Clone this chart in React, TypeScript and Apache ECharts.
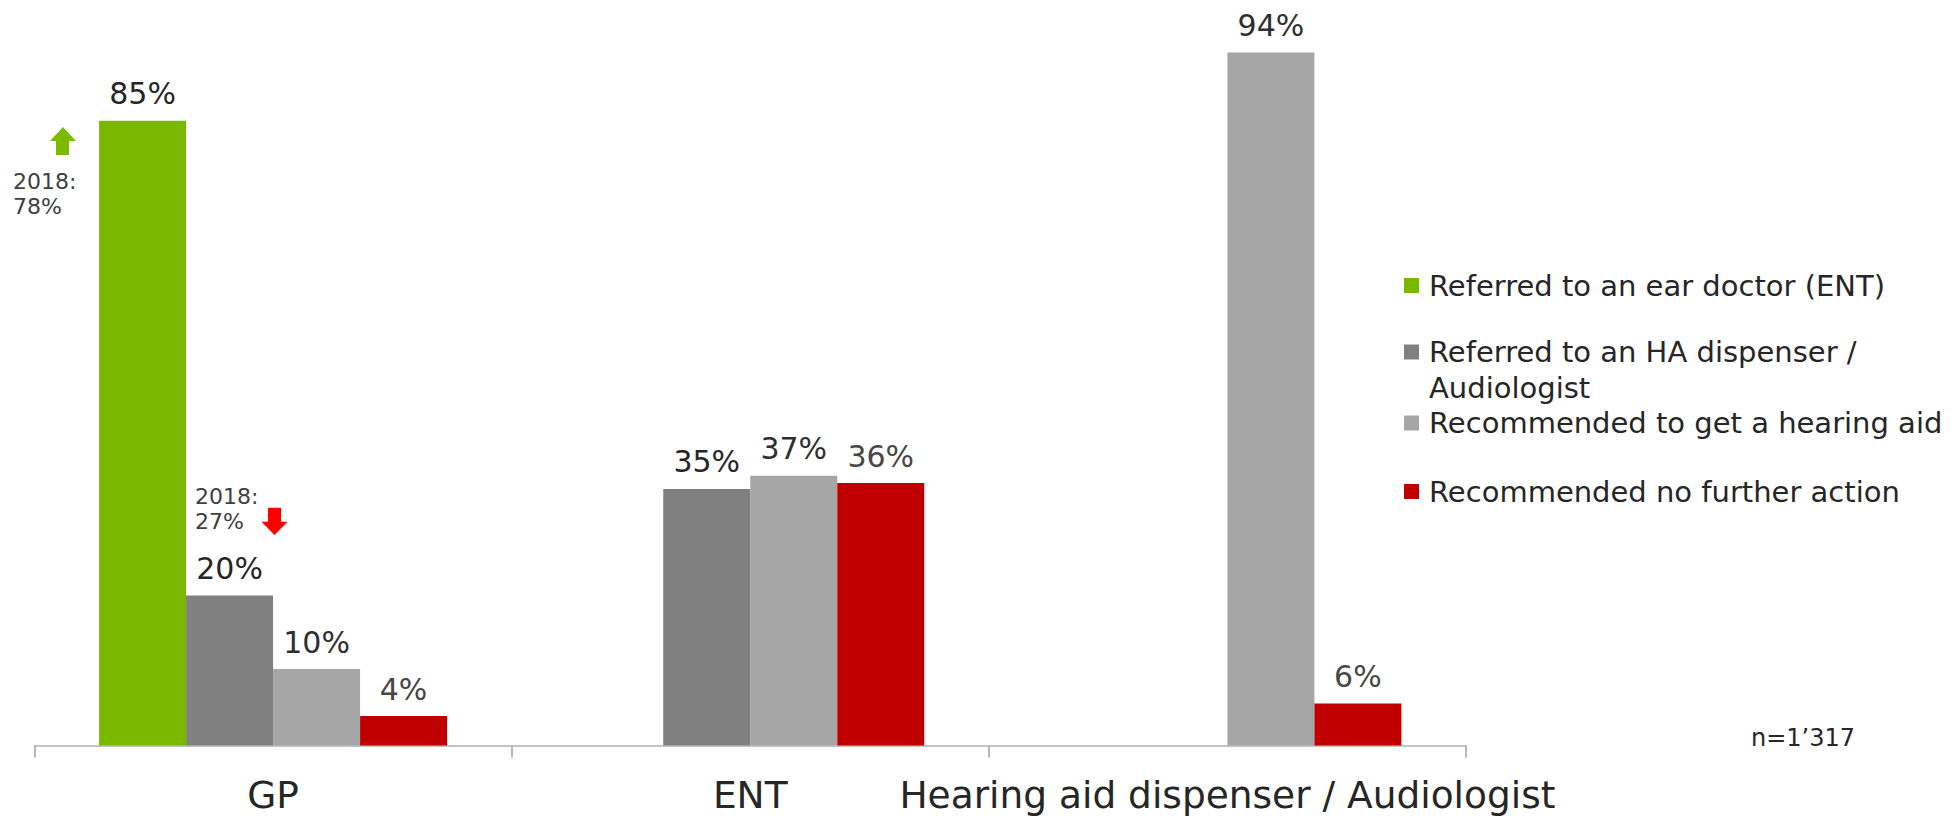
import React, { useEffect, useRef } from "react";
import * as echarts from "echarts";

const categories = ["GP", "ENT", "Hearing aid dispenser / Audiologist"];
const seriesNames = [
  "Referred to an ear doctor (ENT)",
  "Referred to an HA dispenser / Audiologist",
  "Recommended to get a hearing aid",
  "Recommended no further action",
];
const referredEnt = [85.0, null, null];
const referredDispenser = [20.4, 34.9, null];
const recommendedHearingAid = [10.4, 36.7, 94.3];
const recommendedNoAction = [4.0, 35.7, 5.7];
const note2018Ent = "2018:\n78%";
const note2018Dispenser = "2018:\n27%";
const sampleNote = "n=1\u2019317";

const FONT = "Verdana, 'DejaVu Sans', sans-serif";
const colors = ["#7AB800", "#808080", "#A6A6A6", "#C00000"];
const labelColors = ["#262626", "#262626", "#2f2f2f", "#474747"];

export default function App() {
  const ref = useRef<HTMLDivElement>(null);

  useEffect(() => {
    if (!ref.current) return;
    const chart = echarts.init(ref.current, undefined, { renderer: "svg" });
    const seriesData = [referredEnt, referredDispenser, recommendedHearingAid, recommendedNoAction];

    const singleIcon = "path://M0,0H15V15H0Z M20,0L20.001,0Z";
    const tallIcon = "path://M0,0H15V15H0Z M20,51L20.001,51Z";
    const legendTops = [267.5, 334, 405, 473.5];
    const legends = seriesNames.map((name, i) => ({
      data: [name],
      orient: "vertical",
      left: 1404,
      top: legendTops[i],
      padding: 0,
      icon: i === 1 ? tallIcon : singleIcon,
      itemWidth: 20,
      itemHeight: i === 1 ? 51 : 15,
      selectedMode: false,
      formatter: (n: string) =>
        n === seriesNames[1] ? "Referred to an HA dispenser /\nAudiologist" : n,
      textStyle: {
        fontFamily: FONT,
        fontSize: 29,
        color: "#262626",
        lineHeight: 36,
      },
    }));

    chart.setOption({
      animation: false,
      textStyle: { fontFamily: FONT },
      grid: { left: 34.5, right: 486, top: 10.5, bottom: 70.5, containLabel: false },
      legend: legends,
      xAxis: {
        type: "category",
        data: categories,
        axisLine: { show: true, lineStyle: { color: "#C4C4C4", width: 2 } },
        axisTick: { show: true, length: 12, lineStyle: { color: "#B8B8B8", width: 2 } },
        axisLabel: { interval: 0, fontFamily: FONT, fontSize: 37.5, color: "#262626", margin: 30 },
      },
      yAxis: { type: "value", min: 0, max: 100, show: false, splitLine: { show: false } },
      series: seriesData.map((d, i) => ({
        name: seriesNames[i],
        type: "bar",
        data: d,
        barWidth: 87,
        barGap: "0%",
        itemStyle: { color: colors[i] },
        label: {
          show: true,
          position: "top",
          distance: 12,
          fontFamily: FONT,
          fontSize: 30,
          color: labelColors[i],
          formatter: (p: any) => `${Math.round(p.value)}%`,
        },
      })),
      graphic: [
        {
          type: "polygon",
          shape: {
            points: [[63, 127], [76, 141], [69, 141], [69, 155], [56, 155], [56, 141], [50, 141]],
          },
          style: { fill: "#7CBA00" },
        },
        {
          type: "text",
          left: 13,
          top: 169,
          style: { text: note2018Ent, fontFamily: FONT, fontSize: 22, lineHeight: 25, fill: "#404040" },
        },
        {
          type: "polygon",
          shape: {
            points: [[274.5, 535], [287.5, 521.7], [281, 521.7], [281, 507.7], [268, 507.7], [268, 521.7], [261.5, 521.7]],
          },
          style: { fill: "#FF0000" },
        },
        {
          type: "text",
          left: 195,
          top: 484,
          style: { text: note2018Dispenser, fontFamily: FONT, fontSize: 22, lineHeight: 25, fill: "#404040" },
        },
        {
          type: "text",
          left: 1751,
          top: 726,
          style: { text: sampleNote, fontFamily: FONT, fontSize: 24, fill: "#262626" },
        },
      ],
    });

    const onResize = () => chart.resize();
    window.addEventListener("resize", onResize);
    return () => {
      window.removeEventListener("resize", onResize);
      chart.dispose();
    };
  }, []);

  return (
    <div
      ref={ref}
      style={{ position: "fixed", left: 0, top: 0, width: 1952, height: 816, background: "#ffffff" }}
    />
  );
}
